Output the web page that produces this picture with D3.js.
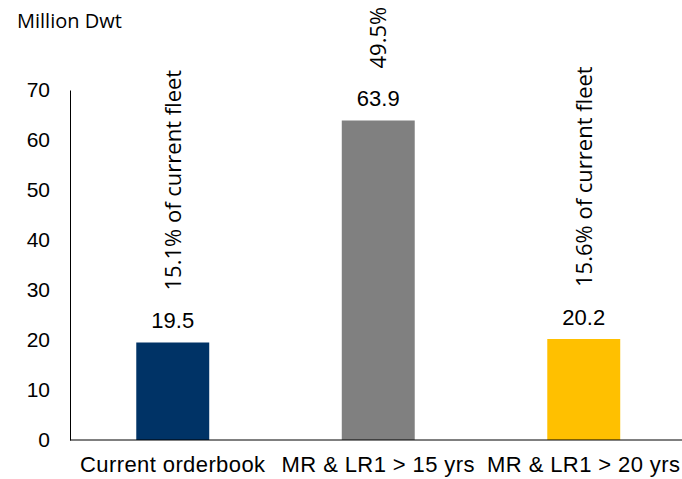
<!DOCTYPE html>
<html>
<head>
<meta charset="utf-8">
<script src="https://cdn.jsdelivr.net/npm/d3@7"></script>
<style>
  body { margin: 0; background: #fff; }
  text { fill: #000; }
</style>
</head>
<body>
<svg width="682" height="479"></svg>
<script>
const categories = ['Current orderbook', 'MR & LR1 > 15 yrs', 'MR & LR1 > 20 yrs'];
const values = [19.5, 63.9, 20.2];
const shareLabels = ['15.1% of current fleet', '49.5%', '15.6% of current fleet'];
const barColors = ['#003366', '#808080', '#FFC000'];
const yTicks = [0, 10, 20, 30, 40, 50, 60, 70];

const svg = d3.select('svg');
const numFont = 'Liberation Sans, Arial, sans-serif';
const uiFont = 'Open Sans, Noto Sans, sans-serif';

const x = d3.scaleBand()
    .domain(categories)
    .range([70, 686.5])
    .paddingInner(0.645)
    .paddingOuter(0.3225);

const y = d3.scaleLinear()
    .domain([0, 70])
    .range([440, 90]);

// axis title
svg.append('text')
    .attr('x', 17).attr('y', 28)
    .style('font-family', uiFont)
    .style('font-size', '20px')
    .text('Million Dwt');

// y axis (line + labels, no tick marks)
const yAxis = svg.append('g')
    .attr('transform', 'translate(70,0)')
    .call(d3.axisLeft(y).tickValues(yTicks).tickSize(0).tickPadding(20));
yAxis.select('.domain').attr('stroke', '#000');
yAxis.selectAll('text')
    .style('font-family', numFont)
    .style('font-size', '21px')
    .attr('fill', '#000');

// bars
svg.selectAll('rect.bar')
    .data(values)
    .enter().append('rect')
        .attr('class', 'bar')
        .attr('x', (d, i) => x(categories[i]))
        .attr('width', x.bandwidth())
        .attr('y', d => y(d))
        .attr('height', d => y(0) - y(d))
        .attr('fill', (d, i) => barColors[i]);

// x axis baseline
svg.append('line')
    .attr('x1', 70).attr('x2', 682)
    .attr('y1', y(0)).attr('y2', y(0))
    .attr('stroke', '#000');

// category labels
svg.selectAll('text.cat')
    .data(categories)
    .enter().append('text')
        .attr('class', 'cat')
        .attr('x', d => x(d) + x.bandwidth() / 2)
        .attr('y', 472)
        .attr('text-anchor', 'middle')
        .style('font-family', numFont)
        .style('font-size', '22px')
        .style('letter-spacing', '0.4px')
        .text(d => d);

// value labels
svg.selectAll('text.val')
    .data(values)
    .enter().append('text')
        .attr('class', 'val')
        .attr('x', (d, i) => x(categories[i]) + x.bandwidth() / 2)
        .attr('y', d => y(d) - 14.5)
        .attr('text-anchor', 'middle')
        .style('font-family', numFont)
        .style('font-size', '22px')
        .text(d => d.toFixed(1));

// rotated share labels
svg.selectAll('text.share')
    .data(shareLabels)
    .enter().append('text')
        .attr('class', 'share')
        .attr('transform', (d, i) => {
            const cx = x(categories[i]) + x.bandwidth() / 2 + 8;
            const cy = y(values[i]) - 52;
            return `translate(${cx},${cy}) rotate(-90)`;
        })
        .style('font-family', uiFont)
        .style('font-size', '22px')
        .text(d => d);
</script>
</body>
</html>
